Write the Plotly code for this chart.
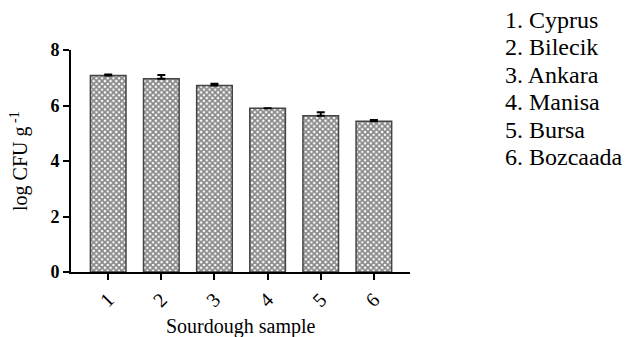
import plotly.graph_objects as go

samples = [1, 2, 3, 4, 5, 6]
sample_labels = ["1", "2", "3", "4", "5", "6"]
log_cfu = [7.08, 6.96, 6.72, 5.90, 5.63, 5.43]
err = [0.04, 0.14, 0.06, 0.0, 0.13, 0.05]
locations = ["1. Cyprus", "2. Bilecik", "3. Ankara", "4. Manisa", "5. Bursa", "6. Bozcaada"]
y_ticks = [0, 2, 4, 6, 8]

serif = "Liberation Serif"
W, H = 627, 337
L, R, T, B = 71, 217, 50, 65
PW, PH = W - L - R, H - T - B


def px_x(x):
    return (x - L) / PW


def px_y(y):
    return (H - B - y) / PH


fig = go.Figure()
fig.add_trace(go.Bar(
    x=samples, y=log_cfu, width=0.67,
    marker=dict(
        color="white",
        line=dict(color="#444444", width=1.5),
        pattern=dict(shape="x", fgcolor="#111111", bgcolor="white", size=4, solidity=0.7),
    ),
    error_y=dict(type="data", symmetric=False, array=err, arrayminus=[0] * 6,
                 color="black", thickness=2, width=4),
    showlegend=False,
))

fig.update_layout(
    width=W, height=H,
    margin=dict(l=L, r=R, t=T, b=B),
    plot_bgcolor="white", paper_bgcolor="white",
    font=dict(family=serif, color="black"),
    xaxis=dict(
        range=[0.30, 6.68], tickmode="array", tickvals=samples, ticktext=sample_labels,
        tickangle=-45, ticks="outside", ticklen=6, tickwidth=2, tickcolor="black",
        showline=True, linecolor="black", linewidth=2, showgrid=False, zeroline=False,
        tickfont=dict(size=20, family=serif),
    ),
    yaxis=dict(
        range=[0, 8], tickmode="array", tickvals=y_ticks,
        ticktext=["<b>%d</b>" % v for v in y_ticks],
        ticks="outside", ticklen=6, tickwidth=2, tickcolor="black",
        showline=True, linecolor="black", linewidth=2, showgrid=False, zeroline=False,
        tickfont=dict(size=18, family=serif),
    ),
)

fig.add_annotation(x=px_x(241), y=px_y(326), xref="paper", yref="paper",
                   text="Sourdough sample", showarrow=False,
                   xanchor="center", yanchor="middle", font=dict(size=20, family=serif))
fig.add_annotation(x=px_x(19), y=px_y(161), xref="paper", yref="paper",
                   text="log CFU g<sup> -1</sup>", showarrow=False, textangle=-90,
                   xanchor="center", yanchor="middle", font=dict(size=20, family=serif))

for i, name in enumerate(locations):
    fig.add_annotation(x=px_x(503), y=px_y(20 + 27.4 * i), xref="paper", yref="paper",
                       text=name, showarrow=False, xanchor="left", yanchor="middle",
                       align="left", font=dict(size=24, family=serif))

fig.write_html("out.html")
